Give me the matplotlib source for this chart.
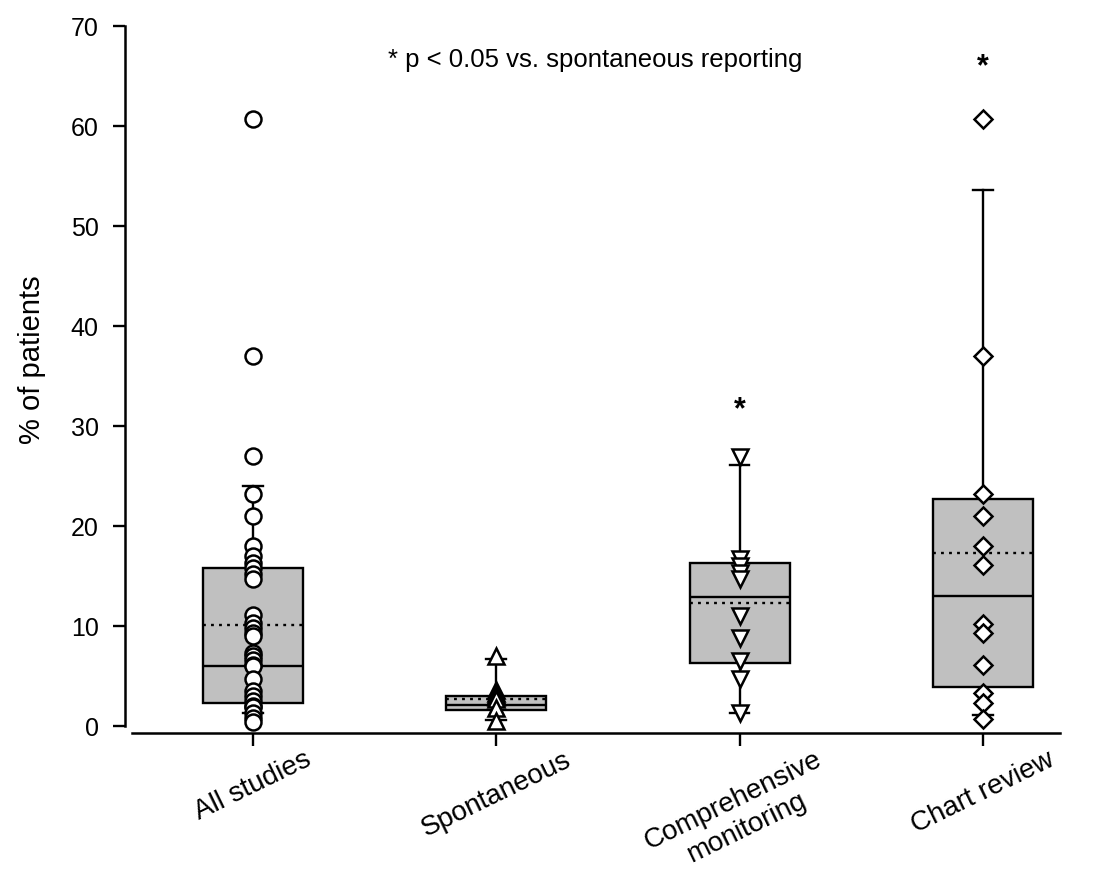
import numpy as np
import matplotlib
matplotlib.use("Agg")
import matplotlib.pyplot as plt

plt.rcParams['font.family'] = ['Liberation Sans', 'DejaVu Sans']

# ---- data ----
categories = ["All studies", "Spontaneous", "Comprehensive\nmonitoring", "Chart review"]

all_studies = [60.7, 37.0, 27.0, 23.2, 21.0, 18.0, 17.0, 16.3, 15.8, 15.2, 14.7,
               11.1, 10.3, 9.8, 9.3, 9.0, 7.3, 7.0, 6.6, 6.1, 6.0, 4.7, 3.5, 3.0,
               2.5, 2.0, 1.9, 1.3, 0.8, 0.4]
spontaneous = [7.0, 3.6, 3.3, 3.1, 2.9, 2.7, 1.8, 0.5]
comprehensive = [26.9, 16.7, 16.0, 15.3, 14.7, 11.0, 8.8, 6.5, 4.7, 1.3]
chart_review = [60.7, 37.0, 23.2, 21.0, 18.0, 16.1, 10.2, 9.3, 6.1, 3.3, 2.3, 0.7]

# box statistics (10th/25th/50th/75th/90th percentiles and mean)
box_q1 = [2.3, 1.6, 6.3, 3.9]
box_med = [6.0, 2.1, 12.9, 13.0]
box_q3 = [15.8, 3.0, 16.3, 22.7]
box_mean = [10.1, 2.7, 12.3, 17.3]
box_whislo = [1.3, 0.6, 1.3, 1.1]
box_whishi = [24.0, 6.7, 26.1, 53.6]

markers = ['o', '^', 'v', 'D']
marker_sizes = [11.5, 11.5, 11.5, 9.5]

significant = [False, False, True, True]
star_y = [None, None, 30.8, 65.1]

y_ticks = [0, 10, 20, 30, 40, 50, 60, 70]

# ---- figure ----
W, H = 1093, 882
fig = plt.figure(figsize=(W / 100, H / 100), dpi=100)
ax = fig.add_axes([125 / W, 1 - 726 / H, (1060 - 125) / W, (726 - 26) / H])

series = [all_studies, spontaneous, comprehensive, chart_review]
stats = []
for i in range(len(categories)):
    stats.append(dict(q1=box_q1[i], med=box_med[i], q3=box_q3[i], mean=box_mean[i],
                      whislo=box_whislo[i], whishi=box_whishi[i], fliers=[]))

ax.bxp(stats, positions=range(len(categories)), widths=0.41, capwidths=0.08,
       patch_artist=True, showmeans=True, meanline=True, showfliers=False,
       boxprops=dict(facecolor='#c0c0c0', edgecolor='black', linewidth=1.7),
       medianprops=dict(color='black', linewidth=1.7),
       meanprops=dict(color='black', linewidth=1.7, linestyle=(0, (1.2, 2.2))),
       whiskerprops=dict(color='black', linewidth=1.7),
       capprops=dict(color='black', linewidth=1.7),
       manage_ticks=False, zorder=1)

for i, vals in enumerate(series):
    ax.plot(np.full(len(vals), i), vals, linestyle='none', marker=markers[i],
            markersize=marker_sizes[i], markerfacecolor='white',
            markeredgecolor='black', markeredgewidth=1.8, zorder=3, clip_on=False)

for i, sig in enumerate(significant):
    if sig:
        ax.text(i, star_y[i], '*', ha='center', va='baseline', fontsize=22,
                fontweight='bold')

ax.text(1.405, 66.6, '* p < 0.05 vs. spontaneous reporting', ha='center',
        va='center', fontsize=18.5)

ax.set_xlim(-0.525, 3.316)
ax.set_ylim(0, 70)
ax.set_yticks(y_ticks)
ax.set_xticks(range(len(categories)))
ax.set_xticklabels(categories)
ax.tick_params(axis='y', length=9, width=1.7, labelsize=18, pad=10)
ax.tick_params(axis='x', length=9, width=1.7, pad=1, labelsize=20, labelrotation=26)
for lab in ax.get_xticklabels():
    lab.set_horizontalalignment('center')
    lab.set_multialignment('center')
    lab.set_linespacing(0.85)

ax.spines['top'].set_visible(False)
ax.spines['right'].set_visible(False)
ax.spines['left'].set_linewidth(1.8)
ax.spines['bottom'].set_linewidth(1.8)
ax.spines['left'].set_bounds(0, 70)
ax.spines['bottom'].set_position(('outward', 5))
ax.spines['bottom'].set_bounds(-0.495, 3.316)

ax.set_ylabel('% of patients', fontsize=21)
ax.yaxis.set_label_coords(-0.085, 0.523)

fig.savefig('out.png', dpi=100)
